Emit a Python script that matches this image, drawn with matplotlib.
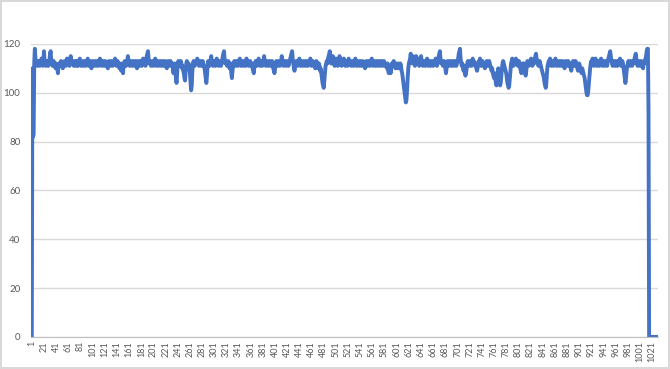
import matplotlib
matplotlib.use('Agg')
import matplotlib.pyplot as plt

LINE_COLOR = '#4472C4'
GRID_COLOR = '#D9D9D9'
TEXT_COLOR = '#595959'

# one reading per category
values = [
    0, 110, 82, 83, 112, 118, 114, 112, 113, 111, 112, 113, 112, 111, 113, 112, 114, 112, 111, 113, 117, 113, 112, 111, 112, 113, 112, 111, 112, 113,
    116, 117, 113, 112, 111, 112, 113, 112, 111, 110, 112, 111, 110, 108, 111, 112, 111, 112, 113, 112, 111, 110, 111, 112, 113, 112, 111, 112, 114, 112,
    113, 112, 111, 112, 115, 113, 112, 113, 112, 111, 112, 113, 112, 111, 113, 112, 111, 112, 113, 114, 112, 111, 112, 113, 112, 111, 112, 113, 112, 111,
    112, 113, 114, 112, 111, 112, 113, 112, 110, 112, 113, 112, 111, 112, 113, 112, 111, 112, 113, 112, 111, 112, 114, 113, 112, 111, 112, 113, 112, 111,
    112, 113, 112, 111, 112, 110, 112, 113, 112, 111, 112, 113, 112, 111, 112, 113, 112, 114, 112, 111, 112, 113, 112, 111, 110, 112, 111, 109, 110, 112,
    108, 111, 112, 113, 112, 111, 112, 113, 115, 113, 112, 111, 112, 113, 112, 111, 112, 113, 112, 111, 112, 113, 112, 110, 112, 113, 112, 111, 112, 113,
    112, 111, 113, 114, 112, 113, 112, 111, 113, 115, 116, 117, 114, 112, 113, 112, 111, 112, 113, 112, 111, 112, 113, 114, 112, 111, 112, 113, 112, 111,
    112, 113, 112, 111, 112, 113, 112, 111, 112, 113, 112, 111, 110, 112, 113, 112, 111, 112, 113, 112, 111, 112, 110, 108, 111, 112, 110, 106, 104, 108,
    112, 113, 112, 111, 112, 113, 112, 110, 111, 109, 108, 106, 105, 109, 112, 113, 112, 111, 112, 110, 108, 104, 101, 103, 109, 112, 113, 112, 111, 112,
    113, 112, 114, 113, 112, 111, 112, 113, 112, 111, 112, 113, 112, 111, 110, 108, 106, 104, 107, 111, 113, 112, 111, 112, 113, 115, 113, 112, 111, 112,
    113, 112, 111, 112, 114, 113, 112, 111, 112, 113, 112, 111, 112, 113, 115, 116, 117, 114, 112, 113, 112, 111, 112, 113, 112, 110, 111, 112, 108, 106,
    109, 111, 112, 113, 112, 111, 112, 113, 112, 111, 112, 113, 114, 112, 111, 112, 113, 112, 111, 112, 113, 112, 111, 114, 112, 113, 112, 111, 112, 113,
    112, 111, 112, 110, 109, 108, 111, 112, 113, 112, 111, 112, 113, 114, 112, 111, 112, 113, 112, 111, 112, 113, 115, 113, 112, 111, 112, 113, 112, 111,
    112, 113, 112, 111, 112, 113, 112, 110, 109, 108, 110, 112, 113, 112, 111, 112, 113, 112, 111, 112, 113, 115, 113, 112, 111, 112, 113, 112, 111, 112,
    113, 112, 111, 112, 113, 114, 115, 116, 117, 114, 112, 110, 109, 111, 112, 113, 112, 111, 112, 113, 114, 112, 111, 112, 113, 112, 111, 112, 113, 112,
    111, 112, 113, 112, 111, 112, 113, 112, 114, 112, 111, 112, 113, 112, 111, 112, 110, 112, 113, 112, 111, 110, 112, 111, 109, 110, 108, 106, 104, 103,
    102, 105, 108, 111, 112, 113, 112, 114, 115, 116, 117, 114, 112, 113, 112, 115, 113, 112, 111, 112, 114, 113, 112, 111, 112, 113, 115, 113, 112, 111,
    112, 113, 112, 114, 112, 111, 112, 113, 112, 111, 112, 114, 112, 113, 112, 111, 112, 113, 112, 111, 112, 113, 114, 112, 111, 112, 113, 112, 111, 112,
    113, 112, 111, 112, 113, 112, 111, 112, 110, 112, 113, 112, 111, 112, 113, 112, 111, 112, 113, 114, 112, 111, 112, 113, 112, 111, 112, 113, 112, 111,
    112, 113, 112, 111, 112, 113, 112, 111, 112, 113, 112, 111, 112, 111, 110, 112, 109, 108, 110, 111, 108, 110, 112, 111, 112, 113, 112, 111, 110, 111,
    112, 111, 110, 112, 111, 110, 112, 111, 109, 108, 106, 104, 102, 100, 98, 96, 97, 101, 106, 110, 112, 113, 114, 116, 113, 112, 114, 115, 113, 112,
    111, 112, 115, 113, 112, 114, 112, 111, 112, 113, 115, 113, 112, 111, 112, 113, 112, 111, 112, 113, 114, 112, 111, 112, 113, 112, 111, 112, 113, 112,
    111, 112, 113, 112, 114, 112, 111, 112, 113, 115, 116, 117, 114, 112, 113, 112, 111, 112, 113, 112, 110, 108, 110, 112, 113, 112, 111, 112, 113, 112,
    111, 112, 113, 112, 111, 112, 113, 112, 111, 112, 113, 114, 116, 117, 118, 114, 112, 111, 112, 110, 109, 111, 108, 107, 108, 110, 112, 113, 112, 111,
    112, 113, 112, 111, 113, 114, 112, 113, 112, 111, 112, 110, 109, 110, 112, 113, 112, 114, 112, 111, 112, 113, 112, 111, 112, 110, 111, 112, 113, 112,
    111, 112, 113, 112, 111, 110, 109, 110, 108, 107, 106, 108, 106, 104, 103, 105, 108, 110, 106, 104, 103, 104, 107, 110, 112, 113, 112, 111, 110, 109,
    108, 106, 104, 103, 102, 103, 106, 109, 112, 113, 114, 112, 111, 112, 113, 112, 114, 113, 112, 111, 112, 113, 112, 110, 109, 108, 110, 112, 111, 112,
    109, 108, 107, 109, 112, 113, 112, 111, 112, 113, 112, 114, 112, 111, 112, 113, 112, 114, 115, 116, 114, 113, 112, 111, 112, 113, 112, 111, 110, 109,
    108, 107, 106, 104, 103, 102, 104, 108, 111, 112, 113, 112, 114, 112, 111, 112, 113, 112, 111, 112, 113, 114, 112, 111, 112, 113, 112, 111, 112, 113,
    112, 111, 112, 113, 112, 111, 110, 112, 113, 112, 111, 112, 113, 112, 111, 112, 110, 109, 111, 112, 113, 112, 111, 112, 113, 112, 111, 110, 109, 110,
    112, 111, 110, 109, 108, 110, 109, 108, 107, 106, 104, 102, 100, 99, 99, 101, 104, 107, 110, 112, 113, 112, 114, 112, 111, 112, 113, 114, 112, 111,
    112, 113, 112, 111, 112, 113, 114, 112, 111, 112, 113, 112, 111, 112, 113, 112, 111, 113, 114, 115, 116, 117, 115, 113, 112, 111, 112, 113, 112, 111,
    112, 113, 112, 111, 112, 113, 112, 114, 112, 111, 112, 113, 112, 110, 108, 106, 104, 106, 109, 111, 112, 113, 112, 111, 112, 113, 112, 111, 112, 113,
    112, 114, 115, 116, 114, 112, 111, 112, 113, 112, 111, 112, 113, 112, 111, 110, 112, 113, 112, 114, 115, 117, 118, 118, 92, 0, 0, 0, 0, 0,
    0, 0, 0, 0, 0, 0, 0, 0, 0, 0,
]
categories = list(range(1, len(values) + 1))
x_labels = [str(c) for c in categories[::20]]
y_ticks = [0, 20, 40, 60, 80, 100, 120]

plt.rcParams['font.family'] = ['Lato', 'DejaVu Sans']

fig = plt.figure(figsize=(6.7, 3.69), dpi=100)
fig.patch.set_edgecolor('#D9D9D9')
fig.patch.set_linewidth(1.5)
ax = fig.add_axes([0.047, 0.087, 0.935, 0.794])

ax.plot(categories, values, color=LINE_COLOR, linewidth=2.8, solid_joinstyle='round')

ax.set_xlim(0.5, len(values) + 0.5)
ax.set_ylim(0, 120)
ax.set_yticks(y_ticks)
ax.set_xticks(categories[::20])
ax.set_xticklabels(x_labels, rotation=90, fontsize=6.5, color=TEXT_COLOR)
ax.tick_params(axis='y', labelsize=7, colors=TEXT_COLOR, length=0, pad=8)
ax.tick_params(axis='x', length=0, pad=3)

ax.grid(axis='y', color=GRID_COLOR, linewidth=1)
ax.set_axisbelow(True)
for side in ['top', 'right', 'left']:
    ax.spines[side].set_visible(False)
ax.spines['bottom'].set_color('#BFBFBF')

plt.savefig('out.png', dpi=100)
plt.close()
